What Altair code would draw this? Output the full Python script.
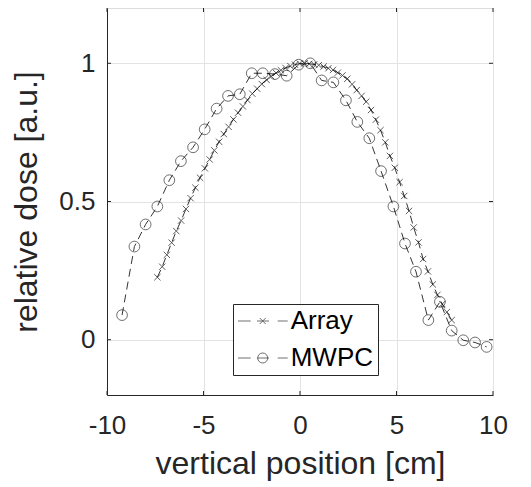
import altair as alt
import pandas as pd

# MWPC measurement (circles)
mwpc_x = [-9.22, -8.58, -8.00, -7.39, -6.77, -6.17, -5.54, -4.94, -4.32, -3.73,
          -3.12, -2.50, -1.93, -1.30, -0.69, -0.07, 0.53, 1.12, 1.73, 2.38,
          2.97, 3.59, 4.20, 4.84, 5.44, 6.01, 6.65, 7.25, 7.86, 8.46, 9.07, 9.67]
mwpc_y = [0.089, 0.337, 0.417, 0.482, 0.577, 0.646, 0.696, 0.761, 0.836, 0.882,
          0.888, 0.964, 0.964, 0.961, 0.955, 0.995, 1.000, 0.938, 0.931, 0.866,
          0.788, 0.729, 0.610, 0.482, 0.348, 0.246, 0.071, 0.137, 0.033, -0.002, -0.010, -0.026]

# Array measurement (crosses)
array_x = [-7.39, -7.14, -6.90, -6.65, -6.41, -6.16, -5.91, -5.67, -5.42, -5.18,
           -4.93, -4.68, -4.44, -4.19, -3.95, -3.70, -3.45, -3.21, -2.96, -2.72,
           -2.47, -2.22, -1.98, -1.73, -1.49, -1.24, -0.99, -0.75, -0.50, -0.26,
           -0.01, 0.24, 0.48, 0.73, 0.97, 1.22, 1.47, 1.71, 1.96, 2.20,
           2.45, 2.70, 2.94, 3.19, 3.43, 3.68, 3.93, 4.17, 4.42, 4.66,
           4.91, 5.16, 5.40, 5.65, 5.89, 6.14, 6.38, 6.63, 6.88, 7.12,
           7.37, 7.61, 7.86]
array_y = [0.226, 0.264, 0.307, 0.351, 0.393, 0.431, 0.473, 0.512, 0.550, 0.586,
           0.620, 0.652, 0.685, 0.716, 0.744, 0.770, 0.797, 0.821, 0.844, 0.867,
           0.890, 0.908, 0.925, 0.940, 0.953, 0.965, 0.975, 0.983, 0.990, 0.995,
           0.999, 1.000, 0.998, 0.996, 0.993, 0.988, 0.982, 0.976, 0.966, 0.956,
           0.944, 0.924, 0.903, 0.882, 0.861, 0.831, 0.796, 0.758, 0.714, 0.665,
           0.622, 0.570, 0.520, 0.466, 0.406, 0.352, 0.292, 0.247, 0.200, 0.162,
           0.129, 0.100, 0.071]

series_names = ["Array", "MWPC"]
x_ticks = [-10, -5, 0, 5, 10]
y_ticks = [0, 0.5, 1]

df = pd.DataFrame({
    "x": array_x + mwpc_x,
    "y": array_y + mwpc_y,
    "series": ["Array"] * len(array_x) + ["MWPC"] * len(mwpc_x),
})
xt = pd.DataFrame({"v": x_ticks})
yt = pd.DataFrame({"v": y_ticks})

W, H = 386, 387
FONT = "Liberation Sans"
AX = "#262626"

xs = alt.Scale(domain=[-10, 10], nice=False, zero=False)
ys = alt.Scale(domain=[-0.2, 1.2], nice=False, zero=False)

X = alt.X("x:Q", scale=xs, axis=alt.Axis(
    values=x_ticks, labelExpr="toString(datum.value)", labelFlush=False,
    title="vertical position [cm]", ticks=False,
    labelFontSize=26, titleFontSize=32, labelPadding=17, titlePadding=10,
    labelFont=FONT, titleFont=FONT, labelColor=AX, titleColor=AX,
    titleFontWeight="normal", domainColor=AX, gridColor="#e3e3e3"))
Y = alt.Y("y:Q", scale=ys, axis=alt.Axis(
    values=y_ticks, labelExpr="toString(datum.value)", labelFlush=False,
    title="relative dose [a.u.]", ticks=False,
    labelFontSize=26, titleFontSize=32, labelPadding=12, titlePadding=15,
    labelFont=FONT, titleFont=FONT, labelColor=AX, titleColor=AX,
    titleFontWeight="normal", domainColor=AX, gridColor="#e3e3e3"))

base = alt.Chart(df)

lines = base.mark_line(color="black", strokeWidth=0.8, strokeDash=[8, 5]).encode(
    x=X, y=Y, detail="series:N")

XPATH = "M-1,-1L1,1M-1,1L1,-1"
pts_array = base.transform_filter(alt.datum.series == "Array").mark_point(
    shape=XPATH, size=40, filled=False, color="black", strokeWidth=0.9
).encode(x=X, y=Y)
pts_mwpc = base.transform_filter(alt.datum.series == "MWPC").mark_point(
    shape="circle", size=115, filled=False, color="black", strokeWidth=0.8
).encode(x=X, y=Y)

LEG_ARRAY = "M-2.4,0H0.14M1.4,0H3.8M1.94,-0.6L3.14,0.6M1.94,0.6L3.14,-0.6M5.54,0H7.54"
LEG_MWPC = "M-2.4,0H0.14M1.4,0H3.8M3.54,0A1,1,0,1,1,1.54,0A1,1,0,1,1,3.54,0M5.54,0H7.54"

legend_layer = base.transform_filter("false").mark_point(
    filled=False, color="black", size=100, strokeWidth=0.8
).encode(
    x=X, y=Y,
    shape=alt.Shape("series:N",
                    scale=alt.Scale(domain=series_names, range=[LEG_ARRAY, LEG_MWPC]),
                    legend=alt.Legend(
                        title=None, orient="none", legendX=126, legendY=296,
                        padding=4, fillColor="white", strokeColor=AX,
                        labelFontSize=26, labelFont=FONT, labelColor="black",
                        labelOffset=27.7, rowPadding=11, symbolSize=100,
                        symbolStrokeWidth=0.8, symbolStrokeColor="black",
                        cornerRadius=0)))

tick_bottom = alt.Chart(xt).mark_rule(color=AX, strokeWidth=1).encode(
    x=alt.X("v:Q", scale=xs), y=alt.value(H), y2=alt.value(H - 4))
tick_top = alt.Chart(xt).mark_rule(color=AX, strokeWidth=1).encode(
    x=alt.X("v:Q", scale=xs), y=alt.value(0), y2=alt.value(4))
tick_left = alt.Chart(yt).mark_rule(color=AX, strokeWidth=1).encode(
    y=alt.Y("v:Q", scale=ys), x=alt.value(0), x2=alt.value(4))
tick_right = alt.Chart(yt).mark_rule(color=AX, strokeWidth=1).encode(
    y=alt.Y("v:Q", scale=ys), x=alt.value(W), x2=alt.value(W - 4))

chart = alt.layer(
    lines, pts_array, pts_mwpc, legend_layer,
    tick_bottom, tick_top, tick_left, tick_right
).properties(
    width=W, height=H,
    autosize=alt.AutoSizeParams(type="none"),
    padding={"left": 99, "top": 0, "right": 30, "bottom": 92},
).configure_view(stroke=AX, strokeWidth=1
).configure(background="white")

chart.save("out.html", embed_options={"renderer": "svg", "actions": False})
